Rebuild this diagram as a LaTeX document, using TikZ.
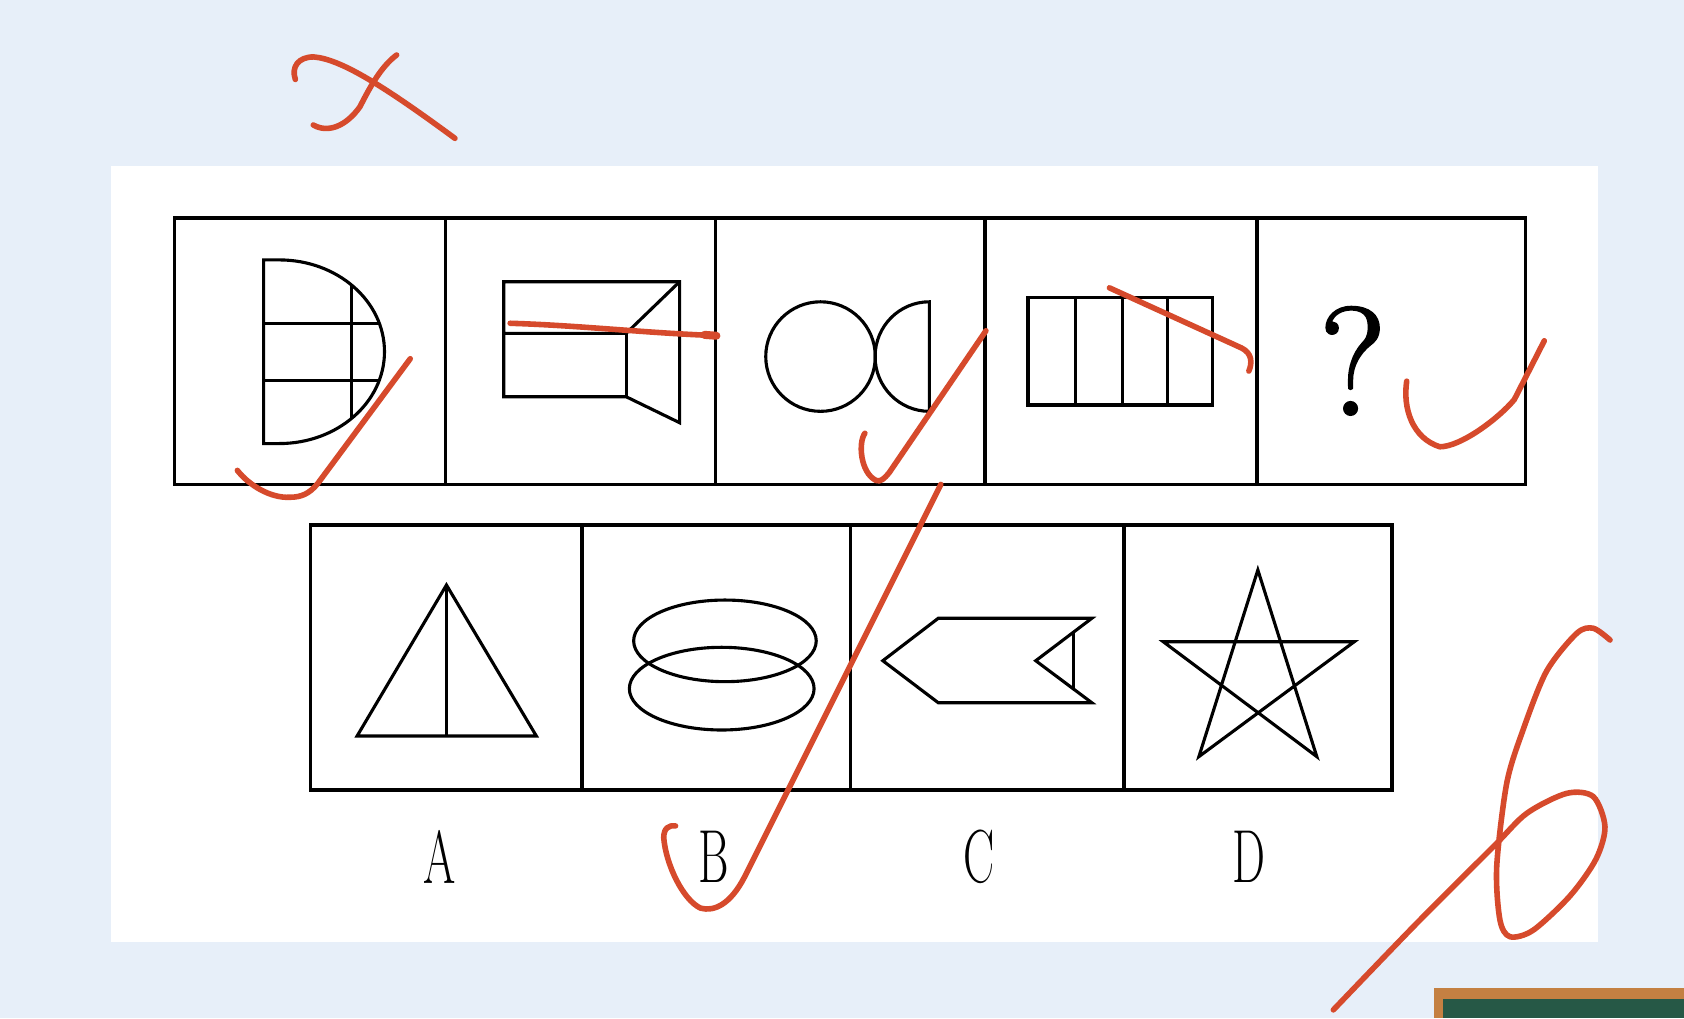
\documentclass[tikz,border=0pt]{standalone}
\usepackage{graphicx}
\usepackage{fontspec}
\newfontfamily\qfont{Latin Modern Roman}[FakeBold=1.6]
\definecolor{bgblue}{RGB}{231,239,249}
\definecolor{redink}{RGB}{214,74,44}
\definecolor{boardframe}{RGB}{196,128,66}
\definecolor{boardgreen}{RGB}{38,88,70}
\tikzset{
  boxline/.style={draw=black, line width=3.2pt},
  figline/.style={draw=black, line width=2.9pt, line join=miter},
  ink/.style={draw=redink, line width=5.2pt, line cap=round, line join=round},
  lab/.style={inner sep=0pt, font=\fontsize{70}{70}\selectfont},
}
\begin{document}
\begin{tikzpicture}[x=1pt,y=-1pt]
\useasboundingbox (0,0) rectangle (1568,948);
\fill[bgblue] (0,0) rectangle (1568,948);
% white panel
\fill[white] (103,155) rectangle (1488,877);
% chalkboard corner
\fill[boardframe] (1335.5,920) rectangle (1568,948);
\fill[boardgreen] (1344,930) rectangle (1568,948);

% ---------- top row ----------
\draw[boxline] (162.5,203) rectangle (1420.5,451);
\foreach \xx in {415,666,917.3,1170.2} \draw[boxline] (\xx,203) -- (\xx,451);

% cell 1: D shape with grid
\draw[figline] (245.5,242) -- (260,242) arc[start angle=-90, end angle=90, x radius=98, y radius=85.5] -- (245.5,413) -- cycle;
\draw[figline] (245.5,301) -- (353.2,301);
\draw[figline] (245.5,354) -- (353.2,354);
\draw[figline] (327,265.1) -- (327,389.9);

% cell 2: rectangle with trapezoid
\draw[figline] (583,310.4) -- (469,310.4) -- (469,262.3) -- (632.8,262.3) -- (632.8,393.6) -- (583,369.4) -- (469,369.4) -- (469,310.4);
\draw[figline] (583,310.4) -- (583,369.4);
\draw[figline] (583,310.4) -- (632.8,262.3);

% cell 3: circle and half disc
\draw[figline] (764,332) circle[radius=51];
\draw[figline] (865.3,281) arc[start angle=-90, end angle=-270, x radius=50.5, y radius=51] -- cycle;

% cell 4: rectangle with four columns
\draw[figline] (957.2,276.8) rectangle (1129.3,377.1);
\foreach \xx in {1001.7,1045.1,1087.4} \draw[figline] (\xx,276.8) -- (\xx,377.1);

% cell 5: question mark
\node[inner sep=0pt, font=\qfont\fontsize{143}{143}\selectfont] (qmark) at (1259.6,336) {?};

% ---------- bottom row ----------
\draw[boxline] (289.3,488.8) rectangle (1296,735.6);
\foreach \xx in {542,792.1,1046.5} \draw[boxline] (\xx,488.8) -- (\xx,735.6);

% A: triangle with median
\draw[figline] (415.7,544.7) -- (499.4,685.3) -- (332.5,685.3) -- cycle;
\draw[figline] (415.7,544.7) -- (415.7,685.3);

% B: two ellipses
\draw[figline] (675,596.7) ellipse[x radius=85, y radius=38];
\draw[figline] (672,641.2) ellipse[x radius=86, y radius=38.5];

% C: notched arrow
\draw[figline] (822,615.2) -- (873.6,575.7) -- (1016.6,575.7) -- (964.4,615.2) -- (1016.6,654.3) -- (873.6,654.3) -- cycle;
\draw[figline] (999.9,588.6) -- (999.9,641.5);

% D: pentagram
\draw[figline] (1171.2,530.7) -- (1116.3,704.5) -- (1261,597.5) -- (1083.1,597.5) -- (1226.1,704.5) -- cycle;

% labels
\node[lab] (labA) at (409,798) {\scalebox{0.62}[1]{A}};
\node[lab] (labB) at (664.6,798) {\scalebox{0.62}[1]{B}};
\node[lab] (labC) at (911.7,798) {\scalebox{0.62}[1]{C}};
\node[lab] (labD) at (1163,798) {\scalebox{0.62}[1]{D}};

% ---------- red handwriting ----------
% cross mark at top
\draw[ink] (275,74) .. controls (271,62) and (278,53) .. (292,53)
  .. controls (318,55) and (360,82) .. (423.6,128.8);
\draw[ink] (369.3,51.2) .. controls (355,62) and (345,80) .. (335.2,99.3)
  .. controls (322,118) and (305,124) .. (291.7,116.4);
% tick in cell 1
\draw[ink] (221,438) .. controls (232,452) and (252,464) .. (270,463)
  .. controls (280,463) and (288,460) .. (296,450) -- (382,334);
% stroke in cell 2
\draw[ink] (475,301) .. controls (540,303) and (600,310) .. (667,312.5);
\draw[ink, line width=7.5pt] (656,311.8) -- (667,312.6);
% tick in cell 3
\draw[ink] (805.3,403.4) .. controls (799,412) and (801,440) .. (815.6,447.3)
  .. controls (820,449) and (823,446) .. (828,440) -- (918,308);
% stroke in cell 4
\draw[ink] (1033,268) -- (1156,324) .. controls (1166,329) and (1166,338) .. (1162.8,345.5);
% tick in cell 5
\draw[ink] (1309.8,354.9) .. controls (1306,380) and (1315,408) .. (1340.6,416)
  .. controls (1360,416) and (1395,390) .. (1410,372) -- (1437.9,317.3);
% long slash ending in tick at B
\draw[ink] (876,451) -- (693,817) .. controls (680,842) and (665,849) .. (652.3,845.6)
  .. controls (636,838) and (620,805) .. (618,780) .. controls (618,771) and (623,768) .. (629,769);
% figure 6
\draw[ink] plot[smooth] coordinates {(1499.1,595.9) (1483.6,585) (1468.1,589.7) (1440,625) (1418,680) (1402.9,729.4) (1393.6,807) (1396.6,856.6) (1406,872.2) (1427.7,866) (1462,834) (1486,800) (1494.4,769.7) (1483.6,741.8) (1458.8,738.7) (1421.6,757.3) (1390.5,788.3) (1319.1,859.7) (1241.5,940.3)};
\end{tikzpicture}
\end{document}
